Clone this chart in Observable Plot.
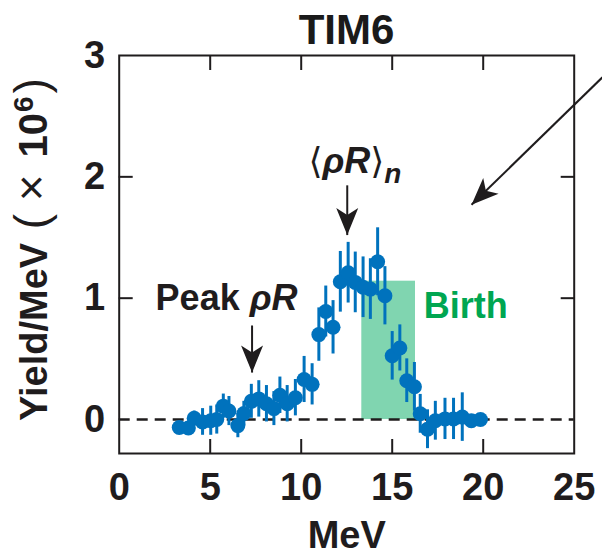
<!DOCTYPE html>
<html><head><meta charset="utf-8">
<script src="https://cdn.jsdelivr.net/npm/d3@7"></script>
<script src="https://cdn.jsdelivr.net/npm/@observablehq/plot@0.6"></script>
<style>
body{margin:0;background:#fff;}
#wrap{position:relative;width:602px;height:555px;font-family:"Liberation Sans",Arial,sans-serif;}
#title{position:absolute;left:118px;width:457px;top:9px;text-align:center;font-size:42px;line-height:42px;font-weight:bold;color:#1a1a1a;z-index:2;}
#wrap svg{position:absolute;left:0;top:0;z-index:1;}
</style>
</head><body><div id="wrap"><div id="title">TIM6</div></div>
<script>
// ---- data ----
const energy = [3.3, 3.8, 4.12, 4.58, 5.03, 5.36, 5.72, 6.03, 6.52, 6.85, 7.26, 7.67, 8.09, 8.5, 8.83, 9.23, 9.68, 10.16, 10.6, 10.97, 11.35, 11.75, 12.15, 12.58, 12.97, 13.4, 13.8, 14.2, 14.6, 15.0, 15.42, 15.8, 16.22, 16.54, 16.94, 17.37, 17.9, 18.37, 18.85, 19.35, 19.85];
const yieldVal = [-0.066, -0.07, 0.01, -0.02, -0.01, 0.0, 0.11, 0.07, -0.05, 0.05, 0.15, 0.17, 0.13, 0.09, 0.2, 0.13, 0.18, 0.33, 0.29, 0.70, 0.89, 0.76, 1.135, 1.21, 1.13, 1.09, 1.075, 1.30, 1.02, 0.525, 0.59, 0.32, 0.27, 0.047, -0.08, -0.01, 0.005, 0.005, 0.02, -0.01, 0.0];
const yieldErr = [0.04, 0.04, 0.06, 0.11, 0.12, 0.12, 0.1, 0.12, 0.1, 0.1, 0.14, 0.15, 0.15, 0.14, 0.15, 0.15, 0.15, 0.19, 0.17, 0.22, 0.21, 0.22, 0.25, 0.25, 0.25, 0.25, 0.25, 0.28, 0.24, 0.2, 0.19, 0.18, 0.2, 0.16, 0.16, 0.16, 0.17, 0.17, 0.2, 0.03, 0.03];
const xTicks = [0, 5, 10, 15, 20, 25];
const yTicks = [0, 1, 2, 3];
const xInnerTicks = [5, 10, 15, 20];
const yInnerTicks = [1, 2];
const birthStart = [13.33];
const birthEnd = [16.28];
const birthTop = [1.14];
const labelTexts = ["Peak ρR", "⟨ρR⟩n", "Birth"];
const labelX = [2.0, 10.4, 16.73];
const labelY = [1.0, 2.13, 0.93];
const arrowX1 = [7.3, 12.53, 26.55];
const arrowY1 = [0.775, 1.93, 2.82];
const arrowX2 = [7.3, 12.53, 19.36];
const arrowY2 = [0.387, 1.52, 1.77];
const xLabel = "MeV";
const yLabel = "Yield/MeV (× 10⁶)";

const points = energy.map((e, i) => ({e, v: yieldVal[i], err: yieldErr[i]}));
const birth = birthStart.map((x1, i) => ({x1, x2: birthEnd[i], y1: 0, y2: birthTop[i]}));
const labels = labelTexts.map((t, i) => ({t, x: labelX[i], y: labelY[i]}));
const arrows = arrowX1.map((x1, i) => ({x1, y1: arrowY1[i], x2: arrowX2[i], y2: arrowY2[i]}));

const BLUE = "#0072bd", INK = "#1f1c1d", GREEN = "#00a651";
const FONT = "Liberation Sans, Arial, sans-serif";

const plot = Plot.plot({
  width: 602, height: 555,
  marginLeft: 118.7, marginRight: 28.3, marginTop: 55, marginBottom: 102,
  x: {domain: [0, 25]},
  y: {domain: [-0.28, 3]},
  style: {fontFamily: FONT, fontWeight: "bold", fontSize: "38px", color: INK, background: "white"},
  marks: [
    Plot.rect(birth, {x1: "x1", x2: "x2", y1: "y1", y2: "y2", fill: "#80d5b0"}),
    Plot.ruleY([0], {stroke: INK, strokeWidth: 2.5, strokeDasharray: "11,7"}),
    Plot.ruleX(points, {x: "e", y1: d => d.v - d.err, y2: d => d.v + d.err, stroke: BLUE, strokeWidth: 3}),
    Plot.dot(points, {x: "e", y: "v", r: 7.5, fill: BLUE, stroke: "none"}),
    Plot.frame({stroke: INK, strokeWidth: 2}),
    Plot.axisX(xTicks, {anchor: "bottom", tickSize: 0, tickPadding: 20, tickFormat: d3.format("d"), label: null, fontSize: 38, fill: INK}),
    Plot.axisX(xInnerTicks, {anchor: "bottom", tickSize: 14, dy: -14, fill: "none", label: null, stroke: INK, strokeWidth: 2}),
    Plot.axisX(xInnerTicks, {anchor: "top", tickSize: 14, dy: 14, fill: "none", label: null, stroke: INK, strokeWidth: 2}),
    Plot.axisY(yTicks, {anchor: "left", tickSize: 0, tickPadding: 14, tickFormat: d3.format("d"), label: null, fontSize: 38, fill: INK}),
    Plot.axisY(yInnerTicks, {anchor: "left", tickSize: 14, dx: 14, fill: "none", label: null, stroke: INK, strokeWidth: 2}),
    Plot.axisY(yInnerTicks, {anchor: "right", tickSize: 14, dx: -14, fill: "none", label: null, stroke: INK, strokeWidth: 2}),
    Plot.text([xLabel], {text: d => d, frameAnchor: "bottom", textAnchor: "middle", lineAnchor: "middle", dy: 82, fontSize: 38, fontWeight: "bold", fill: INK}),
    Plot.text([yLabel], {text: d => d, frameAnchor: "left", textAnchor: "middle", lineAnchor: "middle", rotate: -90, dx: -84, dy: -5, fontSize: 38, fontWeight: "bold", fill: INK}),
    Plot.text(labels, {x: "x", y: "y", text: "t", textAnchor: "start", fontSize: 36, fontWeight: "bold", fill: d => d.t === "Birth" ? GREEN : INK}),
    Plot.link(arrows, {x1: "x1", y1: "y1", x2: "x2", y2: "y2", stroke: INK, strokeWidth: 2})
  ]
});

const svg = d3.select(plot);
// arrowhead marker
const defs = svg.insert("defs", ":first-child");
defs.append("marker").attr("id", "stealth").attr("viewBox", "-30 -14 32 28")
  .attr("refX", 0).attr("refY", 0).attr("markerWidth", 32).attr("markerHeight", 28)
  .attr("markerUnits", "userSpaceOnUse").attr("orient", "auto")
  .append("path").attr("d", "M0,0L-27,-11L-20,0L-27,11Z").attr("fill", INK);
svg.selectAll("g[aria-label='link'] path").attr("marker-end", "url(#stealth)");

function rich(str, parts) {
  svg.selectAll("text").filter(function() { return this.textContent === str; }).each(function() {
    const t = d3.select(this);
    t.text(null);
    for (const p of parts) {
      const s = t.append("tspan").text(p.t);
      if (p.italic) s.attr("font-style", "italic");
      if (p.weight) s.attr("font-weight", p.weight);
      if (p.size) s.attr("font-size", p.size);
      if (p.dy) s.attr("dy", p.dy);
      if (p.dx) s.attr("dx", p.dx);
      if (p.family) s.attr("font-family", p.family);
    }
  });
}
rich(labelTexts[0], [{t: "Peak "}, {t: "ρR", italic: true}]);
rich(labelTexts[1], [{t: "⟨", weight: "normal", family: "DejaVu Sans"}, {t: "ρR", italic: true}, {t: "⟩", weight: "normal", family: "DejaVu Sans"}, {t: "n", italic: true, size: 28, dy: 10}]);
rich(yLabel, [{t: "Yield/MeV "}, {t: "(", weight: "normal", size: 46, dx: 3}, {t: " × ", weight: "normal", size: 46}, {t: "10", size: 40, dx: 4}, {t: "6", size: 28, dy: -14, dx: 1}, {t: ")", weight: "normal", size: 46, dy: 14, dx: 3}]);

const wrap = document.getElementById("wrap");
wrap.insertBefore(plot, wrap.firstChild);
</script>
</body></html>
